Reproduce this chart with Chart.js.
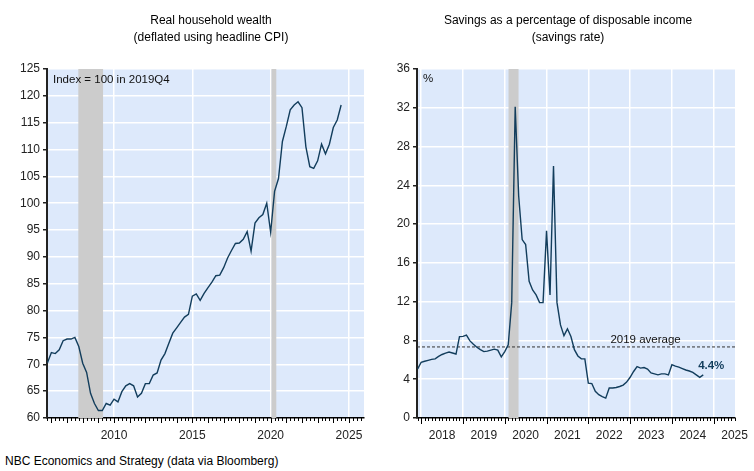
<!DOCTYPE html>
<html><head><meta charset="utf-8">
<script src="https://cdn.jsdelivr.net/npm/chart.js@4/dist/chart.umd.min.js"></script>
<style>
body{margin:0;background:#fff;width:754px;height:471px;overflow:hidden;position:relative;font-family:"Liberation Sans",Arial,sans-serif;}
.t{position:absolute;text-align:center;font-size:12px;color:#000;line-height:17px;white-space:nowrap;}
#c1{position:absolute;left:0;top:0;}
#c2{position:absolute;left:377px;top:0;}
#foot{position:absolute;left:5px;top:454px;font-size:12px;color:#000;white-space:nowrap;}
</style></head><body>
<canvas id="c1" width="377" height="450"></canvas>
<canvas id="c2" width="377" height="450"></canvas>
<div class="t" style="left:61px;top:12px;width:300px;">Real household wealth<br>(deflated using headline CPI)</div>
<div class="t" style="left:418px;top:12px;width:300px;">Savings as a percentage of disposable income<br>(savings rate)</div>
<div id="foot">NBC Economics and Strategy (data via Bloomberg)</div>
<script>
// ---------- DATA ----------
// Real household wealth, quarterly, first quarter 2005Q4 (index = 100 in 2019Q4)
const wealthFirstQuarter = 2005.75;
const wealthValues = [
  70.3,
  72.2, 72.0, 72.7, 74.4,
  74.7, 74.7, 75.0, 73.3,
  70.2, 68.5, 64.6, 62.7,
  61.4, 61.4, 62.7, 62.4,
  63.5, 63.0, 64.9, 66.0,
  66.4, 66.0, 63.9, 64.6,
  66.4, 66.4, 68.0, 68.4,
  70.8, 72.0, 73.9, 75.8,
  76.8, 77.8, 78.8, 79.3,
  82.7, 83.1, 81.9, 83.2,
  84.3, 85.3, 86.5, 86.6,
  88.0, 89.8, 91.2, 92.5,
  92.6, 93.3, 94.7, 91.1,
  96.3, 97.3, 97.9, 100.0,
  94.6, 102.2, 104.6, 111.5,
  114.3, 117.4, 118.3, 118.9,
  117.8, 110.5, 106.8, 106.5,
  107.9, 111.0, 109.2, 111.0,
  114.1, 115.5, 118.3
];
// Savings rate (%), monthly, first month Dec 2017
const savingsFirstMonth = 2017 + 11/12;
const savingsValues = [
  5.06,
  5.75, 5.85, 5.95, 6.05, 6.1, 6.35, 6.55, 6.7, 6.8, 6.7, 6.6, 8.4,
  8.42, 8.55, 7.95, 7.6, 7.3, 7.05, 6.85, 6.9, 7.0, 7.1, 7.0, 6.3,
  6.85, 7.55, 11.9, 32.1, 22.9, 18.4, 17.9, 14.1, 13.2, 12.7, 11.9, 11.9,
  19.3, 12.7, 26.0, 11.9, 9.6, 8.5, 9.2, 8.4, 7.05, 6.4, 6.1, 6.1,
  3.6, 3.55, 2.75, 2.4, 2.2, 2.05, 3.1, 3.1, 3.15, 3.25, 3.4, 3.7,
  4.2, 4.8, 5.3, 5.15, 5.2, 5.05, 4.65, 4.55, 4.45, 4.55, 4.55, 4.45,
  5.5, 5.35, 5.25, 5.1, 4.95, 4.85, 4.7, 4.45, 4.2, 4.45
];
const savings2019Average = 7.33;
const lastLabel = "4.4%";
// Recession periods (decimal years)
const wealthRecessions = [[2007.72, 2009.3], [2020.05, 2020.36]];
const savingsRecessions = [[2020.09, 2020.33]];
// Axis tick settings
const wealthYTicks = {min: 60, max: 125, step: 5};
const savingsYTicks = {min: 0, max: 36, step: 4};
const wealthXRange = {min: 2005.72, max: 2025.96};
const savingsXRange = {min: 2017.9, max: 2025.51};

// ---------- STYLE ----------
const FONT = '"Liberation Sans", Arial, sans-serif';
const BG = '#dde9fb';
const SHADE = '#cccccc';
const LINE = '#123d5c';

const wealthPts = wealthValues.map((v, i) => ({x: wealthFirstQuarter + i * 0.25, y: v}));
const savingsPts = savingsValues.map((v, i) => ({x: savingsFirstMonth + i / 12, y: v}));

function isInt(v, m) { const q = v / m; return Math.abs(q - Math.round(q)) < 1e-6; }

function makePlugin(recessions, minorStep, minorLen, majorLen, extra) {
  return {
    id: 'deco',
    beforeDraw(chart) {
      const a = chart.chartArea, c = chart.ctx;
      c.save(); c.fillStyle = BG; c.fillRect(a.left, a.top, a.right - a.left, a.bottom - a.top); c.restore();
    },
    beforeDatasetsDraw(chart) {
      const a = chart.chartArea, c = chart.ctx, xs = chart.scales.x;
      c.save(); c.fillStyle = SHADE;
      recessions.forEach(([s, e]) => {
        const x0 = Math.max(a.left, xs.getPixelForValue(s));
        const x1 = Math.min(a.right, xs.getPixelForValue(e));
        c.fillRect(x0, a.top, x1 - x0, a.bottom - a.top);
      });
      c.restore();
    },
    afterDraw(chart) {
      const a = chart.chartArea, c = chart.ctx, xs = chart.scales.x;
      c.save(); c.strokeStyle = '#000'; c.lineWidth = 1;
      const k0 = Math.ceil(xs.min / minorStep - 1e-6), k1 = Math.floor(xs.max / minorStep + 1e-6);
      c.beginPath();
      for (let k = k0; k <= k1; k++) {
        const v = k * minorStep;
        const len = isInt(v, 1) ? majorLen : minorLen;
        const px = Math.round(xs.getPixelForValue(v)) + 0.5;
        c.moveTo(px, a.bottom); c.lineTo(px, a.bottom + len);
      }
      c.stroke(); c.restore();
      if (extra) extra(chart);
    }
  };
}

function axes(xr, yr, xStep, labelCb, gridCb, yWidth) {
  return {
    x: {
      type: 'linear', min: xr.min, max: xr.max,
      afterFit(s) { s.height = 32; },
      border: {color: '#000', width: 1.5},
      grid: {color: gridCb, lineWidth: 1.5, drawTicks: true, tickLength: 6, tickColor: 'rgba(0,0,0,0)'},
      ticks: {stepSize: xStep, includeBounds: false, autoSkip: false, maxRotation: 0, padding: 4,
              color: '#222', font: {family: FONT, size: 12}, callback: labelCb}
    },
    y: {
      type: 'linear', min: yr.min, max: yr.max,
      afterFit(s) { s.width = yWidth; },
      border: {color: '#222', width: 2},
      grid: {color: '#ffffff', lineWidth: 1.5, tickLength: 4, tickColor: '#222'},
      ticks: {stepSize: yr.step, padding: 3, color: '#222', font: {family: FONT, size: 12}}
    }
  };
}

Chart.defaults.animation = false;

new Chart(document.getElementById('c1'), {
  type: 'line',
  data: {datasets: [{data: wealthPts, borderColor: LINE, borderWidth: 1.4, pointRadius: 0, tension: 0}]},
  options: {
    responsive: false, animation: false,
    layout: {padding: {top: 69, right: 13, left: 0, bottom: 0}},
    plugins: {legend: {display: false}, tooltip: {enabled: false}},
    scales: axes(wealthXRange, wealthYTicks, 5,
      v => isInt(v, 5) ? String(Math.round(v)) : '',
      ctx => (ctx.tick && isInt(ctx.tick.value, 5)) ? '#ffffff' : 'rgba(0,0,0,0)', 47)
  },
  plugins: [makePlugin(wealthRecessions, 0.25, 3, 5, chart => {
    const a = chart.chartArea, c = chart.ctx;
    c.save(); c.fillStyle = '#111'; c.font = '11.5px ' + FONT; c.textBaseline = 'middle';
    c.fillText('Index = 100 in 2019Q4', a.left + 6, a.top + 11);
    c.restore();
  })]
});

new Chart(document.getElementById('c2'), {
  type: 'line',
  data: {datasets: [
    {data: savingsPts, borderColor: LINE, borderWidth: 1.4, pointRadius: 0, tension: 0},
    {data: [{x: savingsXRange.min, y: savings2019Average}, {x: savingsXRange.max, y: savings2019Average}],
     borderColor: '#333', borderWidth: 1, borderDash: [3, 2], pointRadius: 0}
  ]},
  options: {
    responsive: false, animation: false,
    layout: {padding: {top: 69, right: 19, left: 0, bottom: 0}},
    plugins: {legend: {display: false}, tooltip: {enabled: false}},
    scales: axes(savingsXRange, savingsYTicks, 0.5,
      v => (!isInt(v, 1) && isInt(v, 0.5)) ? String(Math.floor(v)) : '',
      ctx => (ctx.tick && isInt(ctx.tick.value, 1)) ? '#ffffff' : 'rgba(0,0,0,0)', 40)
  },
  plugins: [makePlugin(savingsRecessions, 1/12, 3, 6, chart => {
    const a = chart.chartArea, c = chart.ctx, xs = chart.scales.x, ys = chart.scales.y;
    c.save(); c.fillStyle = '#111'; c.font = '11.5px ' + FONT; c.textBaseline = 'middle';
    c.fillText('%', a.left + 6, a.top + 10);
    c.textAlign = 'center';
    c.fillText('2019 average', xs.getPixelForValue(2023.37), ys.getPixelForValue(savings2019Average) - 7);
    const last = savingsPts[savingsPts.length - 1];
    c.fillStyle = LINE; c.font = 'bold 11.5px ' + FONT;
    c.fillText(lastLabel, xs.getPixelForValue(last.x) + 8, ys.getPixelForValue(last.y) - 9);
    c.restore();
  })]
});
</script>
</body></html>
